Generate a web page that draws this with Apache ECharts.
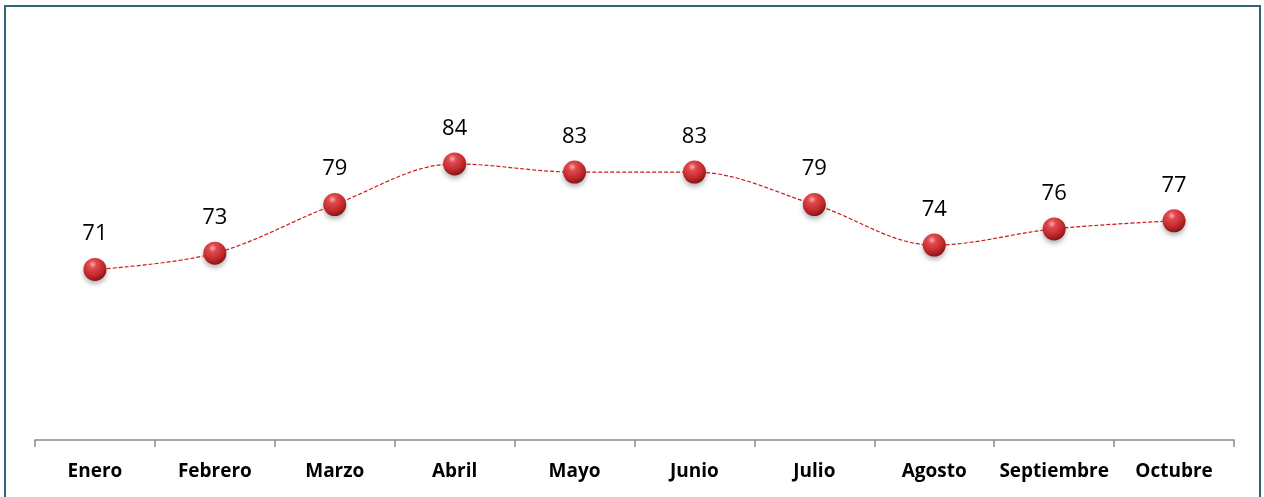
<!DOCTYPE html>
<html>
<head>
<meta charset="utf-8">
<script src="https://cdn.jsdelivr.net/npm/echarts@6/dist/echarts.min.js"></script>
<style>
  html, body { margin: 0; padding: 0; background: #fff; }
  #chart { width: 1264px; height: 497px; }
</style>
</head>
<body>
<div id="chart"></div>
<script>
const months = ["Enero", "Febrero", "Marzo", "Abril", "Mayo", "Junio", "Julio", "Agosto", "Septiembre", "Octubre"];
const values = [71, 73, 79, 84, 83, 83, 79, 74, 76, 77];

const chart = echarts.init(document.getElementById("chart"));

// glossy red ball
const ballColor = new echarts.graphic.RadialGradient(0.4, 0.28, 0.78, [
  { offset: 0, color: "#f7b0b0" },
  { offset: 0.22, color: "#e2494c" },
  { offset: 0.65, color: "#c0272b" },
  { offset: 1, color: "#741012" },
]);

const option = {
  animation: false,
  graphic: [
    {
      type: "rect",
      shape: { x: 5, y: 6, width: 1255, height: 520 },
      style: { fill: "none", stroke: "#2e6577", lineWidth: 2 },
      silent: true,
    },
  ],
  grid: {
    left: 35,
    right: 30,
    top: 34,
    bottom: 57,
  },
  xAxis: {
    type: "category",
    data: months,
    boundaryGap: true,
    axisLine: { lineStyle: { color: "#8a8a8a", width: 1.5 } },
    axisTick: { show: true, interval: 0, length: 7, lineStyle: { color: "#8a8a8a", width: 1.5 } },
    axisLabel: {
      interval: 0,
      color: "#000",
      fontFamily: "Open Sans",
      fontWeight: "bold",
      fontSize: 19,
      margin: 22,
    },
  },
  yAxis: {
    type: "value",
    min: 50,
    max: 100,
    show: false,
    splitLine: { show: false },
  },
  series: [
    {
      type: "line",
      data: values,
      smooth: 0.35,
      symbol: "circle",
      symbolSize: 23,
      lineStyle: { color: "#cc1a1a", width: 1.2, type: [4, 2] },
      itemStyle: {
        color: ballColor,
        borderWidth: 0,
        shadowColor: "rgba(0,0,0,0.3)",
        shadowBlur: 5,
        shadowOffsetY: 3,
      },
      label: {
        show: true,
        position: "top",
        distance: 13,
        color: "#000",
        fontFamily: "Open Sans",
        fontSize: 22,
      },
    },
  ],
};

chart.setOption(option);
</script>
</body>
</html>
